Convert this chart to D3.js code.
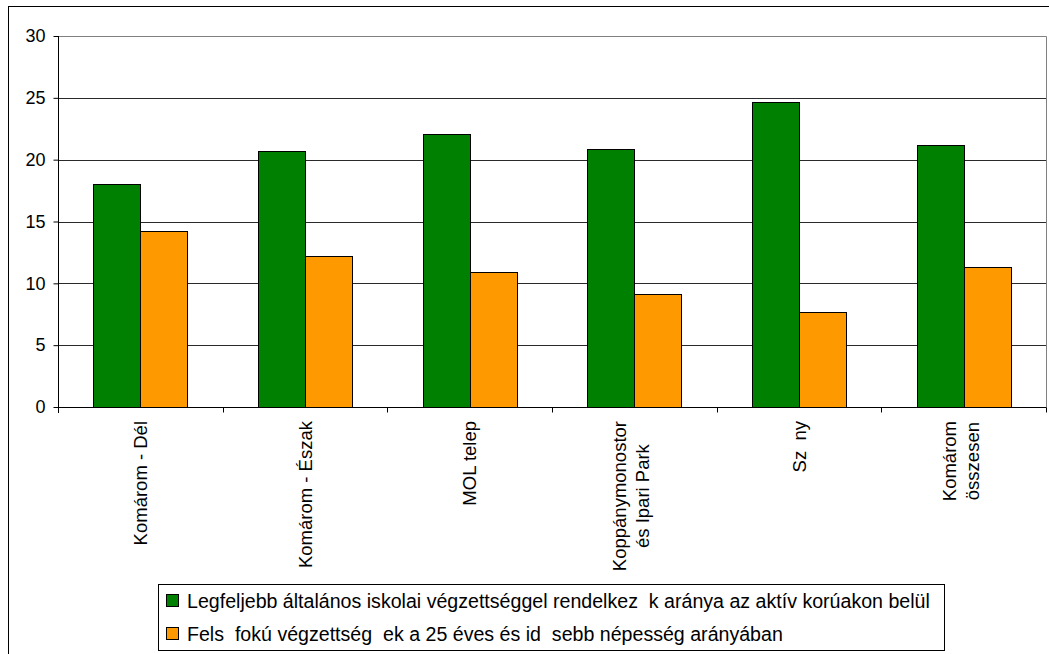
<!DOCTYPE html>
<html><head><meta charset="utf-8">
<script src="https://cdn.jsdelivr.net/npm/d3@7"></script>
<style>html,body{margin:0;padding:0;background:#fff;} svg{display:block;} text{font-family:"Liberation Sans",Arial,sans-serif;}</style>
</head><body>
<svg id="c" width="1049" height="654"></svg>
<script>
const categories = [["Komárom - Dél"],["Komárom - Észak"],["MOL telep"],["Koppánymonostor","és Ipari Park"],["Sz  ny"],["Komárom","összesen"]];
const seriesNames = ["Legfeljebb általános iskolai végzettséggel rendelkez  k aránya az aktív korúakon belül","Fels  fokú végzettség  ek a 25 éves és id  sebb népesség arányában"];
const series1 = [18.0, 20.7, 22.1, 20.9, 24.7, 21.2];
const series2 = [14.2, 12.2, 10.9, 9.1, 7.7, 11.3];
const yTicks = [0,5,10,15,20,25,30];
const colors = ["#008000","#FF9900"];

const svg = d3.select("#c");
svg.append("rect").attr("x",8.5).attr("y",6.5).attr("width",1100).attr("height",700).attr("fill","none").attr("stroke","#000");

const L=58, R=1046, T=36, B=407;
const x = d3.scaleBand().domain(d3.range(categories.length)).range([L,R]);
const y = d3.scaleLinear().domain([0,30]).range([B,T]);
const bw = 47;

// gridlines
svg.append("g").selectAll("line").data(yTicks.filter(d=>d>0&&d<30)).join("line")
  .attr("x1",L).attr("x2",R).attr("y1",d=>Math.round(y(d))+0.5).attr("y2",d=>Math.round(y(d))+0.5)
  .attr("stroke","#2a2a2a").attr("stroke-width",1.2);
// plot border top/right
svg.append("path").attr("d",`M${L},${T+0.5}H${R+0.5}V${B}`).attr("fill","none").attr("stroke","#808080");

const data = categories.map((c,i)=>[series1[i],series2[i]]);
const g = svg.append("g");
data.forEach((vals,i)=>{
  vals.forEach((v,j)=>{
    const cx = x(i)+x.bandwidth()/2;
    g.append("rect").attr("x",Math.round(cx - bw + j*bw)+0.5).attr("y",Math.round(y(v))+0.5)
     .attr("width",bw).attr("height",Math.round(B-y(v)))
     .attr("fill",colors[j]).attr("stroke","#000").attr("stroke-width",1);
  });
});

// y axis
const ya = svg.append("g").attr("transform",`translate(${L+0.5},0)`).call(d3.axisLeft(y).tickValues(yTicks).tickSize(5).tickPadding(8));
ya.select(".domain").attr("d",`M0,${T}V${B+6}`).attr("stroke","#000");
ya.selectAll(".tick line").attr("stroke","#000");
ya.selectAll("text").attr("font-size",18).attr("fill","#000").attr("font-family","Liberation Sans, Arial, sans-serif");

// x axis
const xa = svg.append("g").attr("transform",`translate(0,${B+0.5})`);
xa.append("line").attr("x1",L).attr("x2",R+0.5).attr("stroke","#000");
xa.selectAll(".t").data(d3.range(categories.length+1)).join("line")
  .attr("x1",d=>Math.round(L+d*x.step())+0.5).attr("x2",d=>Math.round(L+d*x.step())+0.5)
  .attr("y1",0).attr("y2",5).attr("stroke","#000");

categories.forEach((lines,i)=>{
  const cx = x(i)+x.bandwidth()/2;
  const lh = 23;
  const gg = svg.append("g");
  const texts = lines.map((s,k)=>gg.append("text").attr("font-size",18.5).attr("fill","#000").style("white-space","pre").text(s));
  const maxW = d3.max(texts,t=>t.node().getComputedTextLength());
  const cy = 421 + maxW/2;
  const n = lines.length;
  texts.forEach((t,k)=>{
    const off = (k-(n-1)/2)*lh + (n>1?-3:0);
    t.attr("text-anchor","middle").attr("transform",`translate(${cx+off+6.5},${cy}) rotate(-90)`);
  });
});

// legend
const lg = svg.append("g");
lg.append("rect").attr("x",158.5).attr("y",584.5).attr("width",786).attr("height",66).attr("fill","#fff").attr("stroke","#000");
seriesNames.forEach((s,j)=>{
  const cy = 600.5 + j*33;
  lg.append("rect").attr("x",166.5).attr("y",cy-6).attr("width",12).attr("height",12).attr("fill",colors[j]).attr("stroke","#000");
  lg.append("text").attr("x",187).attr("y",cy+7).attr("font-size",19.6).attr("fill","#000").style("white-space","pre").text(s);
});
</script>
</body></html>
